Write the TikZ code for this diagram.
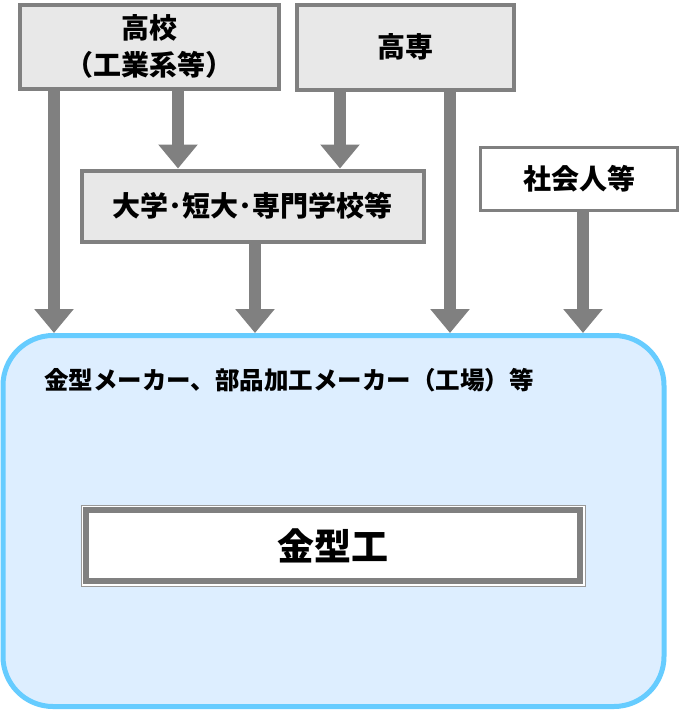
\documentclass[tikz,border=0pt]{standalone}
\usepackage{fontspec}
\setmainfont{Noto Sans CJK JP}
\usetikzlibrary{arrows.meta}
\definecolor{boxgray}{HTML}{E8E8E8}
\definecolor{linegray}{HTML}{808080}
\definecolor{thingray}{HTML}{999999}
\definecolor{bigfill}{HTML}{DDEEFF}
\definecolor{bigline}{HTML}{66CCFF}
\begin{document}
\begin{tikzpicture}[x=1pt,y=-1pt,
  graybox/.style={draw=linegray, line width=4pt, fill=boxgray, inner sep=0pt, align=center,
    font=\bfseries\fontsize{28}{37}\selectfont},
  whitebox/.style={draw=linegray, line width=3.5pt, fill=white, inner sep=0pt, align=center,
    font=\bfseries\fontsize{28}{34}\selectfont},
  flow/.style={draw=linegray, line width=12pt, -{Triangle[width=38pt,length=24pt]}},
  bigbox/.style={draw=bigline, line width=5pt, fill=bigfill, rounded corners=50pt, inner sep=0pt},
  biglabel/.style={font=\bfseries\fontsize{24.5}{28}\selectfont, inner sep=0pt, anchor=west},
  kgouter/.style={draw=thingray, line width=1pt, fill=white, inner sep=0pt,
    font=\bfseries\fontsize{37}{42}\selectfont}
]
\useasboundingbox (0,0) rectangle (685,710);
\fill[white] (0,0) rectangle (685,710);

\node[bigbox, minimum width=661pt, minimum height=371pt] (big) at (333.5,521) {};
\node[biglabel] (biglab) at (44,380) {金型メーカー、部品加工メーカー（工場）等};
\node[kgouter, minimum width=504pt, minimum height=81pt] (kg) at (333,545.5) {金型工};
\draw[linegray, line width=6.5pt] ([shift={(5.5,5.5)}]kg.north west) rectangle ([shift={(-5.5,-5.5)}]kg.south east);

\node[graybox, minimum width=259pt, minimum height=84pt] (koko) at (149.5,46.5) {高校\\（工業系等）};
\node[graybox, minimum width=217pt, minimum height=85pt] (kosen) at (405,47) {高専};
\node[graybox, minimum width=342pt, minimum height=71pt] (daigaku) at (252.5,206) {大学･短大･専門学校等};
\node[whitebox, minimum width=197pt, minimum height=63pt] (shakai) at (579,179) {社会人等};

\coordinate (xa) at (54,0);
\coordinate (xb) at (178,0);
\coordinate (xc) at (340,0);
\coordinate (xd) at (450,0);
\coordinate (xe) at (255,0);
\coordinate (xf) at (583,0);

\draw[flow] (koko.south -| xa) -- (big.north -| xa);
\draw[flow] (koko.south -| xb) -- (daigaku.north -| xb);
\draw[flow] (kosen.south -| xc) -- (daigaku.north -| xc);
\draw[flow] (kosen.south -| xd) -- (big.north -| xd);
\draw[flow] (daigaku.south -| xe) -- (big.north -| xe);
\draw[flow] (shakai.south -| xf) -- (big.north -| xf);
\end{tikzpicture}
\end{document}
